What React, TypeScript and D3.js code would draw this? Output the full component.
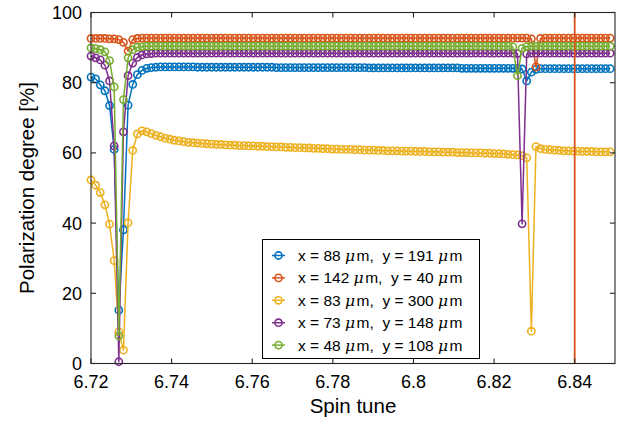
import React from "react";
import * as d3 from "d3";

// Spin tune sampling grid
const tuneStart = 6.72;
const tuneStep = 0.00115;
const sampleCount = 113;

const beamX = [88, 142, 83, 73, 48];
const beamY = [191, 40, 300, 148, 108];
const seriesColors = ["#0072BD", "#D95319", "#EDB120", "#7E2F8E", "#77AC30"];

const polBlue = [
  81.6, 81.1, 79.4, 77.7, 73.5, 61.0, 15.2, 38.1, 73.6, 79.5,
  82.3, 83.5, 84.1, 84.3, 84.4, 84.5, 84.5, 84.5, 84.5, 84.5,
  84.5, 84.5, 84.5, 84.4, 84.4, 84.4, 84.4, 84.4, 84.4, 84.4,
  84.4, 84.4, 84.4, 84.4, 84.4, 84.4, 84.4, 84.4, 84.4, 84.4,
  84.3, 84.3, 84.3, 84.3, 84.3, 84.3, 84.3, 84.3, 84.3, 84.3,
  84.3, 84.3, 84.3, 84.3, 84.3, 84.3, 84.3, 84.3, 84.3, 84.3,
  84.2, 84.2, 84.2, 84.2, 84.2, 84.2, 84.2, 84.2, 84.2, 84.2,
  84.2, 84.2, 84.2, 84.2, 84.2, 84.2, 84.2, 84.2, 84.2, 84.2,
  84.1, 84.1, 84.1, 84.1, 84.1, 84.1, 84.1, 84.1, 84.1, 84.1,
  84.1, 84.1, 84.1, 83.9, 80.5, 83.0, 83.8, 84.0, 84.0, 84.0,
  84.0, 84.0, 84.0, 84.0, 84.0, 84.0, 84.0, 84.0, 84.0, 84.0,
  84.0, 84.0, 84.0,
];

const polOrange = [
  92.6, 92.6, 92.6, 92.6, 92.5, 92.5, 92.3, 91.5, 89.0, 92.3,
  92.6, 92.7, 92.7, 92.7, 92.7, 92.7, 92.7, 92.7, 92.7, 92.7,
  92.7, 92.7, 92.7, 92.7, 92.7, 92.7, 92.7, 92.7, 92.7, 92.7,
  92.7, 92.7, 92.7, 92.7, 92.7, 92.7, 92.7, 92.7, 92.7, 92.7,
  92.7, 92.7, 92.7, 92.7, 92.7, 92.7, 92.7, 92.7, 92.7, 92.7,
  92.7, 92.7, 92.7, 92.7, 92.7, 92.7, 92.7, 92.7, 92.7, 92.7,
  92.7, 92.7, 92.7, 92.7, 92.7, 92.7, 92.7, 92.7, 92.7, 92.7,
  92.7, 92.7, 92.7, 92.7, 92.7, 92.7, 92.7, 92.7, 92.7, 92.7,
  92.7, 92.7, 92.7, 92.7, 92.7, 92.7, 92.7, 92.7, 92.7, 92.7,
  92.7, 92.7, 92.7, 92.7, 92.7, 92.5, 84.5, 92.6, 92.7, 92.7,
  92.7, 92.7, 92.7, 92.7, 92.7, 92.7, 92.7, 92.7, 92.7, 92.7,
  92.7, 92.7, 92.7,
];

const polYellow = [
  52.3, 50.8, 48.7, 45.2, 39.7, 29.3, 9.0, 3.8, 40.1, 60.7,
  65.4, 66.3, 66.0, 65.5, 65.0, 64.6, 64.2, 63.9, 63.6, 63.4,
  63.2, 63.0, 62.9, 62.8, 62.7, 62.6, 62.5, 62.4, 62.4, 62.3,
  62.2, 62.2, 62.1, 62.1, 62.0, 62.0, 61.9, 61.9, 61.8, 61.8,
  61.7, 61.7, 61.6, 61.6, 61.5, 61.5, 61.4, 61.4, 61.3, 61.3,
  61.2, 61.2, 61.1, 61.1, 61.0, 61.0, 61.0, 60.9, 60.9, 60.8,
  60.8, 60.8, 60.7, 60.7, 60.6, 60.6, 60.6, 60.5, 60.5, 60.5,
  60.4, 60.4, 60.4, 60.3, 60.3, 60.3, 60.2, 60.2, 60.2, 60.1,
  60.1, 60.1, 60.0, 60.0, 60.0, 59.9, 59.9, 59.8, 59.8, 59.7,
  59.6, 59.5, 59.4, 59.2, 58.6, 9.2, 61.8, 61.2, 61.0, 60.9,
  60.8, 60.7, 60.6, 60.6, 60.5, 60.5, 60.4, 60.4, 60.4, 60.3,
  60.3, 60.3, 60.3,
];

const polPurple = [
  87.6, 87.1, 86.5, 85.0, 80.5, 62.0, 0.5, 66.0, 82.0, 85.6,
  87.2, 87.9, 88.2, 88.3, 88.4, 88.4, 88.4, 88.4, 88.4, 88.4,
  88.4, 88.4, 88.4, 88.4, 88.4, 88.4, 88.4, 88.4, 88.4, 88.4,
  88.4, 88.4, 88.4, 88.4, 88.4, 88.4, 88.4, 88.4, 88.4, 88.4,
  88.4, 88.4, 88.4, 88.4, 88.4, 88.4, 88.4, 88.4, 88.4, 88.4,
  88.4, 88.4, 88.4, 88.4, 88.4, 88.4, 88.4, 88.4, 88.4, 88.4,
  88.4, 88.4, 88.4, 88.4, 88.4, 88.4, 88.4, 88.4, 88.4, 88.4,
  88.4, 88.4, 88.4, 88.4, 88.4, 88.4, 88.4, 88.4, 88.4, 88.4,
  88.4, 88.4, 88.4, 88.4, 88.4, 88.4, 88.4, 88.4, 88.4, 88.4,
  88.4, 88.4, 88.3, 39.8, 88.2, 88.4, 88.4, 88.4, 88.4, 88.4,
  88.4, 88.4, 88.4, 88.4, 88.4, 88.4, 88.4, 88.4, 88.4, 88.4,
  88.4, 88.4, 88.4,
];

const polGreen = [
  89.9, 89.7, 89.4, 88.8, 86.3, 78.8, 7.9, 75.2, 87.1, 89.4,
  90.1, 90.3, 90.4, 90.4, 90.4, 90.4, 90.4, 90.4, 90.4, 90.4,
  90.4, 90.4, 90.4, 90.4, 90.4, 90.4, 90.4, 90.4, 90.4, 90.4,
  90.4, 90.4, 90.4, 90.4, 90.4, 90.4, 90.4, 90.4, 90.4, 90.4,
  90.4, 90.4, 90.4, 90.4, 90.4, 90.4, 90.4, 90.4, 90.4, 90.4,
  90.4, 90.4, 90.4, 90.4, 90.4, 90.4, 90.4, 90.4, 90.4, 90.4,
  90.4, 90.4, 90.4, 90.4, 90.4, 90.4, 90.4, 90.4, 90.4, 90.4,
  90.4, 90.4, 90.4, 90.4, 90.4, 90.4, 90.4, 90.4, 90.4, 90.4,
  90.4, 90.4, 90.4, 90.4, 90.4, 90.4, 90.4, 90.4, 90.4, 90.4,
  90.4, 90.2, 82.0, 89.8, 90.3, 90.4, 90.4, 90.4, 90.4, 90.4,
  90.4, 90.4, 90.4, 90.4, 90.4, 90.4, 90.4, 90.4, 90.4, 90.4,
  90.4, 90.4, 90.4,
];

const xTicks = [6.72, 6.74, 6.76, 6.78, 6.8, 6.82, 6.84];
const xTickLabels = ["6.72", "6.74", "6.76", "6.78", "6.8", "6.82", "6.84"];
const yTicks = [0, 20, 40, 60, 80, 100];
const yTickLabels = ["0", "20", "40", "60", "80", "100"];
const markerTune = 6.84;

const FONT = "'Liberation Sans', Arial, Helvetica, sans-serif";
const AXIS = "#262626";

export default function App() {
  const W = 619;
  const H = 424;
  const left = 91, right = 615, top = 12.5, bottom = 363.5;

  const x = d3.scaleLinear().domain([6.72, 6.85]).range([left, right]);
  const y = d3.scaleLinear().domain([0, 100]).range([bottom, top]);

  const tune = d3.range(sampleCount).map((i) => tuneStart + i * tuneStep);
  const allSeries = [polBlue, polOrange, polYellow, polPurple, polGreen];

  const line = d3
    .line<number>()
    .x((_, i) => x(tune[i]))
    .y((v) => y(v));

  const tickLen = 5;
  const markR = 3.6;
  const markW = 1.6;

  const legendLeft = 262.5, legendTop = 239.5, legendRight = 479.5, legendBottom = 358.5;
  const legendRow0 = 255.5, legendStep = 22.4;

  return (
    <svg
      width={W}
      height={H}
      viewBox={`0 0 ${W} ${H}`}
      style={{ position: "absolute", left: 0, top: 0, display: "block", background: "#fff" }}
      fontFamily={FONT}
    >
      <rect x={0} y={0} width={W} height={H} fill="#fff" />

      {/* data series */}
      {allSeries.map((vals, s) => (
        <g key={s}>
          <path d={line(vals) || ""} fill="none" stroke={seriesColors[s]} strokeWidth={1.5} strokeLinejoin="round" />
          {vals.map((v, i) => (
            <circle
              key={i}
              cx={x(tune[i])}
              cy={y(v)}
              r={markR}
              fill="none"
              stroke={seriesColors[s]}
              strokeWidth={markW}
            />
          ))}
        </g>
      ))}

      {/* reference spin tune */}
      <line
        x1={x(markerTune)}
        x2={x(markerTune)}
        y1={top}
        y2={bottom}
        stroke="#D95319"
        strokeWidth={1.8}
      />

      {/* axes box */}
      <rect x={left} y={top} width={right - left} height={bottom - top} fill="none" stroke={AXIS} strokeWidth={1.1} />

      {xTicks.map((t, i) => (
        <g key={`xt${i}`}>
          <line x1={x(t)} x2={x(t)} y1={bottom} y2={bottom - tickLen} stroke={AXIS} strokeWidth={1.1} />
          <line x1={x(t)} x2={x(t)} y1={top} y2={top + tickLen} stroke={AXIS} strokeWidth={1.1} />
          <text x={x(t)} y={388} textAnchor="middle" fontSize={18} fill="#000">
            {xTickLabels[i]}
          </text>
        </g>
      ))}

      {yTicks.map((t, i) => (
        <g key={`yt${i}`}>
          <line x1={left} x2={left + tickLen} y1={y(t)} y2={y(t)} stroke={AXIS} strokeWidth={1.1} />
          <line x1={right} x2={right - tickLen} y1={y(t)} y2={y(t)} stroke={AXIS} strokeWidth={1.1} />
          <text x={82} y={y(t) + 6.5} textAnchor="end" fontSize={18} fill="#000">
            {yTickLabels[i]}
          </text>
        </g>
      ))}

      <text x={(left + right) / 2} y={413} textAnchor="middle" fontSize={20.5} fill="#000">
        Spin tune
      </text>
      <text
        transform={`translate(34, ${(top + bottom) / 2}) rotate(-90)`}
        textAnchor="middle"
        fontSize={20.5}
        fill="#000"
      >
        Polarization degree [%]
      </text>

      {/* legend */}
      <rect
        x={legendLeft}
        y={legendTop}
        width={legendRight - legendLeft}
        height={legendBottom - legendTop}
        fill="#fff"
        stroke="#000"
        strokeWidth={1}
      />
      {seriesColors.map((c, i) => {
        const cy = legendRow0 + i * legendStep;
        return (
          <g key={`lg${i}`}>
            <line x1={272} x2={285} y1={cy} y2={cy} stroke={c} strokeWidth={1.5} />
            <circle cx={278.5} cy={cy} r={markR} fill="none" stroke={c} strokeWidth={markW} />
            <text x={298} y={cy + 5.5} fontSize={15.5} fill="#000" style={{ whiteSpace: "pre" }}>
              {`x = ${beamX[i]} `}
              <tspan fontStyle="italic" fontFamily="'DejaVu Serif', serif">μ</tspan>
              <tspan dx={1.5}>{`m,  y = ${beamY[i]} `}</tspan>
              <tspan fontStyle="italic" fontFamily="'DejaVu Serif', serif">μ</tspan>
              <tspan dx={1.5}>m</tspan>
            </text>
          </g>
        );
      })}
    </svg>
  );
}
